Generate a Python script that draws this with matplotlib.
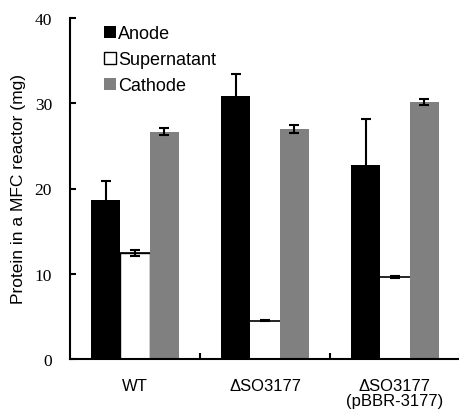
import matplotlib
matplotlib.use('Agg')
import matplotlib.pyplot as plt
import numpy as np

# datos
strains = ['WT', '\u0394SO3177', '\u0394SO3177\n(pBBR-3177)']
series = ['Anode', 'Supernatant', 'Cathode']
anode = [18.6, 30.9, 22.8]
anode_err = [2.3, 2.5, 5.3]
supernatant = [12.4, 4.5, 9.6]
supernatant_err = [0.35, 0.1, 0.15]
cathode = [26.65, 26.95, 30.15]
cathode_err = [0.4, 0.45, 0.4]

values = [anode, supernatant, cathode]
errors = [anode_err, supernatant_err, cathode_err]
colors = ['black', 'white', '#808080']

fig = plt.figure(figsize=(4.6, 4.14), dpi=100)
ax = fig.add_axes([70 / 460, 54 / 414, 390 / 460, 341 / 414])

x = np.arange(len(strains))
width = 0.225
for k in range(3):
    pos = x + (k - 1) * width
    ax.bar(pos, values[k], width, color=colors[k], edgecolor='none',
           label=series[k], zorder=2)
    ax.errorbar(pos, values[k], yerr=errors[k], fmt='none', ecolor='black',
                elinewidth=1.5, capsize=3.6, capthick=1.5, zorder=3)
    if colors[k] == 'white':
        # la barra blanca solo muestra la linea superior
        ax.hlines(values[k], pos - width / 2, pos + width / 2,
                  color='black', linewidth=1.2, zorder=3)

ax.set_xlim(-0.5, 2.5)
ax.set_ylim(0, 40)
ax.set_yticks([0, 10, 20, 30, 40])
ax.set_yticklabels(['0', '10', '20', '30', '40'], family='Liberation Serif',
                   fontsize=12.5)
ax.set_xticks([0.5, 1.5, 2.5])
ax.set_xticklabels([])
ax.set_xticks(x, minor=True)
ax.set_xticklabels(strains, minor=True, family='Liberation Sans', fontsize=12,
                   linespacing=0.95)
ax.tick_params(axis='x', which='major', direction='in', length=4.5, width=1.5)
ax.tick_params(axis='x', which='minor', length=0, pad=14)
ax.tick_params(axis='y', direction='in', length=4.5, width=1.5, pad=13)
for s in ['top', 'right']:
    ax.spines[s].set_visible(False)
for s in ['left', 'bottom']:
    ax.spines[s].set_linewidth(1.5)

ax.set_ylabel('Protein in a MFC reactor (mg)', family='Liberation Sans',
              fontsize=12.5, labelpad=6)

handles, labels = ax.get_legend_handles_labels()
handles[1].patches[0].set_edgecolor('black')
leg = ax.legend(handles, labels, loc='upper left', bbox_to_anchor=(0.06, 1.01),
                frameon=False, prop={'family': 'Liberation Sans', 'size': 13},
                handlelength=0.65, handleheight=0.65, handletextpad=0.12,
                labelspacing=0.5, borderaxespad=0.2)

plt.savefig('out.png', dpi=100)
